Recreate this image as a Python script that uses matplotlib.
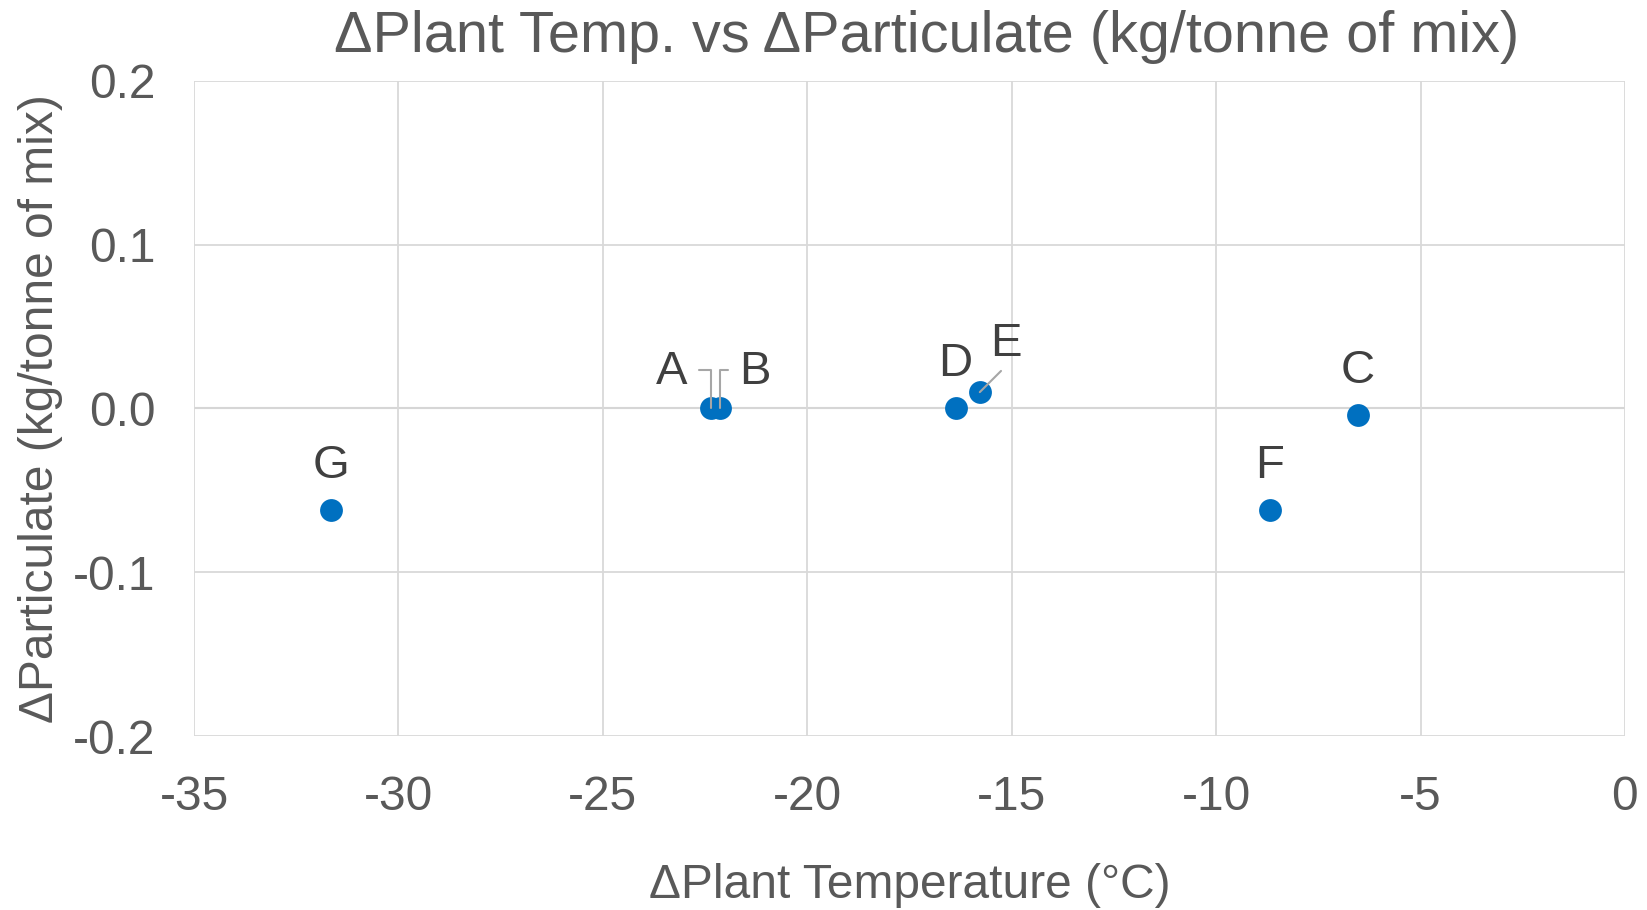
import matplotlib.pyplot as plt
import matplotlib.ticker as ticker

plt.rcParams["font.family"] = ["Liberation Sans", "DejaVu Sans"]
plt.rcParams["axes.unicode_minus"] = False

# Datos
etiquetas = ["A", "B", "C", "D", "E", "F", "G"]
delta_temp = [-22.36, -22.13, -6.53, -16.37, -15.78, -8.69, -31.66]
delta_part = [0.0, 0.0, -0.004, 0.0, 0.010, -0.062, -0.062]

x_ticks = [-35, -30, -25, -20, -15, -10, -5, 0]
y_ticks = [-0.2, -0.1, 0.0, 0.1, 0.2]

gris_texto = "#595959"
gris_etiqueta = "#404040"
azul = "#0070C0"

fig = plt.figure(figsize=(16.47, 9.1), dpi=100)
ax = fig.add_axes([0.1178, 0.1912, 0.8688, 0.7198])

ax.scatter(delta_temp, delta_part, s=270, color=azul, zorder=3, linewidths=0)

ax.set_xlim(-35, 0)
ax.set_ylim(-0.2, 0.2)
ax.set_xticks(x_ticks)
ax.set_yticks(y_ticks)
ax.yaxis.set_major_formatter(ticker.FormatStrFormatter("%.1f"))
ax.grid(True, color="#d9d9d9", lw=1.3, zorder=0)
ax.axhline(0, color="#bfbfbf", lw=1.5, zorder=1)
for s in ax.spines.values():
    s.set_visible(False)
ax.tick_params(length=0, labelsize=34.5, labelcolor=gris_texto)
ax.tick_params(axis="x", pad=28)
ax.tick_params(axis="y", pad=28)

ax.set_title("ΔPlant Temp. vs ΔParticulate (kg/tonne of mix)", fontsize=41.5,
             color=gris_texto, pad=21, x=0.5117)
ax.set_xlabel("ΔPlant Temperature (°C)", fontsize=34.5, color=gris_texto, labelpad=31)
ax.set_ylabel("ΔParticulate (kg/tonne of mix)", fontsize=34.5, color=gris_texto, labelpad=7)

# Desplazamiento de las etiquetas (puntos)
desplaz = {"A": (-28, 26), "B": (25, 26), "E": (18.7, 34.5)}
linea = dict(arrowstyle="-", color="#a6a6a6", lw=1.5, shrinkB=0)
fs_et = 34

for et, x, y in zip(etiquetas, delta_temp, delta_part):
    if et == "A":
        ax.annotate(et, (x, y), xytext=desplaz[et], textcoords="offset points",
                    ha="center", va="center", fontsize=fs_et, color=gris_etiqueta,
                    arrowprops=dict(linea, relpos=(1, 0.55), shrinkA=6,
                                    connectionstyle="angle,angleA=0,angleB=90,rad=0"),
                    zorder=4)
    elif et == "B":
        ax.annotate(et, (x, y), xytext=desplaz[et], textcoords="offset points",
                    ha="center", va="center", fontsize=fs_et, color=gris_etiqueta,
                    arrowprops=dict(linea, relpos=(0, 0.55), shrinkA=6,
                                    connectionstyle="angle,angleA=0,angleB=90,rad=0"),
                    zorder=4)
    elif et == "E":
        ax.annotate(et, (x, y), xytext=desplaz[et], textcoords="offset points",
                    ha="center", va="center", fontsize=fs_et, color=gris_etiqueta,
                    arrowprops=dict(linea, relpos=(0.5, 0), shrinkA=2),
                    zorder=4)
    else:
        ax.annotate(et, (x, y), xytext=(0, 32), textcoords="offset points",
                    ha="center", va="center", fontsize=fs_et, color=gris_etiqueta,
                    zorder=4)

fig.savefig("out.png", dpi=100)
